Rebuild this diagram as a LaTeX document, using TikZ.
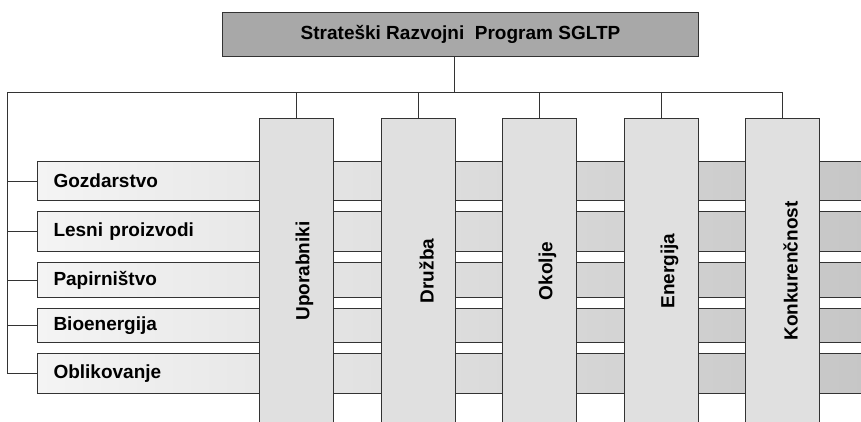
\documentclass[tikz,border=0pt]{standalone}
\usepackage{fontspec}
\setmainfont{Liberation Sans}
\usepackage{tikz}
\usetikzlibrary{positioning}

\definecolor{linegray}{HTML}{333333}
\definecolor{topfill}{HTML}{A8A8A8}
\definecolor{colfill}{HTML}{E0E0E0}
\definecolor{barleft}{HTML}{F4F4F4}
\definecolor{barright}{HTML}{C6C6C6}

\begin{document}
\begin{tikzpicture}[
    x=1pt, y=-1pt,
    line width=1pt,
    font=\fontsize{19}{22}\selectfont\bfseries,
    link/.style={draw=linegray},
    titlebox/.style={draw=linegray, fill=topfill, anchor=north west, minimum width=476pt, minimum height=44pt, inner sep=0pt},
    barbox/.style={draw=linegray, left color=barleft, right color=barright, anchor=north west, text width=796pt, inner xsep=16pt, inner ysep=0pt, align=left},
    pillar/.style={draw=linegray, fill=colfill, anchor=north west, minimum width=74pt, minimum height=307pt, inner sep=0pt},
    pillartext/.style={rotate=90, inner sep=0pt}
]
\useasboundingbox (0,0) rectangle (861,421);
\clip (0,0) rectangle (861,421);

% top
\node[titlebox] (title) at (222,12) {Strateški Razvojni~ Program SGLTP};

% sectors
\node[barbox, minimum height=39pt] (gozd) at (37,161) {Gozdarstvo};
\node[barbox, minimum height=40pt] (lesni) at (37,211) {Lesni proizvodi};
\node[barbox, minimum height=35pt] (papir) at (37,262) {Papirništvo};
\node[barbox, minimum height=34pt] (bio) at (37,308) {Bioenergija};
\node[barbox, minimum height=40pt] (oblik) at (37,353) {Oblikovanje};

% pillars
\node[pillar] (upor) at (259,118) {};
\node[pillar] (druzba) at (381,118) {};
\node[pillar] (okolje) at (502,118) {};
\node[pillar] (energ) at (624,118) {};
\node[pillar] (konk) at (745,118) {};

\node[pillartext] (upor-t) at ([xshift=8pt, yshift=1pt]upor.center) {Uporabniki};
\node[pillartext] (druzba-t) at ([xshift=8pt, yshift=1pt]druzba.center) {Družba};
\node[pillartext] (okolje-t) at ([xshift=8pt, yshift=1pt]okolje.center) {Okolje};
\node[pillartext] (energ-t) at ([xshift=8pt, yshift=1pt]energ.center) {Energija};
\node[pillartext] (konk-t) at ([xshift=8pt, yshift=1pt]konk.center) {Konkurenčnost};

% connectors
\coordinate (bus) at (454,92);
\coordinate (busL) at (7,92);
\draw[link] (bus |- title.south) -- (bus);
\draw[link] (konk.north |- bus) -- (busL) -- (busL |- oblik.west);
\draw[link] (upor.north |- bus) -- (upor.north);
\draw[link] (druzba.north |- bus) -- (druzba.north);
\draw[link] (okolje.north |- bus) -- (okolje.north);
\draw[link] (energ.north |- bus) -- (energ.north);
\draw[link] (konk.north |- bus) -- (konk.north);

\draw[link] (busL |- gozd.west) -- (gozd.west);
\draw[link] (busL |- lesni.west) -- (lesni.west);
\draw[link] (busL |- papir.west) -- (papir.west);
\draw[link] (busL |- bio.west) -- (bio.west);
\draw[link] (busL |- oblik.west) -- (oblik.west);
\end{tikzpicture}
\end{document}
